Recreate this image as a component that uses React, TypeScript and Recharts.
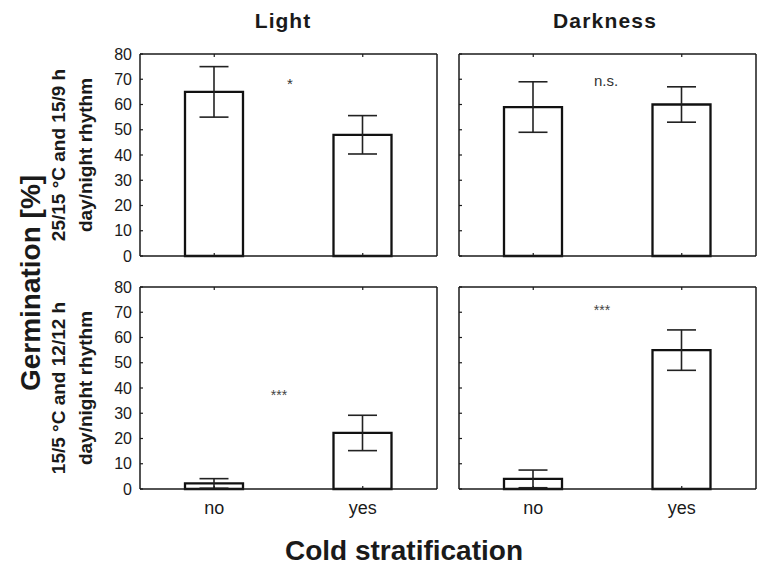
import React from 'react';
import { BarChart, Bar, XAxis, YAxis, ErrorBar } from 'recharts';

// ---- data ----
const categories = ['no', 'yes'];
const yTicks = [0, 10, 20, 30, 40, 50, 60, 70, 80];

const lightWarmValues = [65, 48];
const lightWarmErrors = [10, 7.6];
const darkWarmValues = [59, 60];
const darkWarmErrors = [10, 7];
const lightColdValues = [2.2, 22.2];
const lightColdErrors = [1.9, 7];
const darkColdValues = [4, 55];
const darkColdErrors = [3.5, 8];

const columnTitles = ['Light', 'Darkness'];
const rowLabelsWarm = ['25/15 °C and 15/9 h', 'day/night rhythm'];
const rowLabelsCold = ['15/5 °C and 12/12 h', 'day/night rhythm'];
const significanceLabels = ['*', 'n.s.', '***', '***'];
const yAxisTitle = 'Germination [%]';
const xAxisTitle = 'Cold stratification';

// ---- layout ----
const PLOT_W = 297;
const PLOT_H = 202;
const COL_LEFT = [140, 459];
const ROW_TOP = [54, 287];
const FONT = '"Liberation Sans", Arial, Helvetica, sans-serif';
const INK = '#1a1a1a';

type PanelProps = {
  values: number[];
  errors: number[];
  plotLeft: number;
  plotTop: number;
  showYLabels: boolean;
  showXLabels: boolean;
};

const blank = () => '';

function Panel({ values, errors, plotLeft, plotTop, showYLabels, showXLabels }: PanelProps) {
  const data = categories.map((c, i) => ({ cat: c, value: values[i], err: errors[i] }));
  const yAxisW = showYLabels ? 60 : 1;
  const marginLeft = showYLabels ? 0 : 5;
  const marginTop = 13;
  const marginBottom = showXLabels ? 3 : 12;
  const bottomH = showXLabels ? 40 : 1;
  const W = marginLeft + yAxisW + PLOT_W + 1 + 2;
  const H = marginTop + 1 + PLOT_H + bottomH + marginBottom;
  const axisLine = { stroke: INK, strokeWidth: 1.5 };
  const tickLine = { stroke: INK, strokeWidth: 1.2 };
  return (
    <div style={{ position: 'absolute', left: plotLeft - yAxisW - marginLeft, top: plotTop - 1 - marginTop }}>
      <BarChart
        width={W}
        height={H}
        data={data}
        margin={{ top: marginTop, right: 2, bottom: marginBottom, left: marginLeft }}
        barSize={58}
      >
        <XAxis
          xAxisId="b"
          dataKey="cat"
          orientation="bottom"
          height={bottomH}
          tickSize={-3}
          tickMargin={15}
          interval={0}
          tickFormatter={showXLabels ? undefined : blank}
          tick={{ fill: INK, fontSize: 18, fontFamily: FONT }}
          axisLine={axisLine}
          tickLine={tickLine}
        />
        <XAxis
          xAxisId="t"
          dataKey="cat"
          orientation="top"
          height={1}
          tickSize={-3}
          interval={0}
          tickFormatter={blank}
          axisLine={axisLine}
          tickLine={tickLine}
        />
        <YAxis
          yAxisId="l"
          orientation="left"
          width={yAxisW}
          domain={[0, 80]}
          ticks={yTicks}
          interval={0}
          tickSize={-3}
          tickMargin={11}
          tickFormatter={showYLabels ? undefined : blank}
          tick={{ fill: INK, fontSize: 16, fontFamily: FONT }}
          axisLine={axisLine}
          tickLine={tickLine}
        />
        <YAxis
          yAxisId="r"
          orientation="right"
          width={1}
          domain={[0, 80]}
          ticks={yTicks}
          interval={0}
          tickSize={-3}
          tickFormatter={blank}
          axisLine={axisLine}
          tickLine={tickLine}
        />
        <Bar
          xAxisId="b"
          yAxisId="l"
          dataKey="value"
          fill="#ffffff"
          stroke="#111"
          strokeWidth={2.3}
          isAnimationActive={false}
        >
          <ErrorBar dataKey="err" width={14.5} stroke="#222" strokeWidth={1.6} />
        </Bar>
      </BarChart>
    </div>
  );
}

export default function App() {
  return (
    <div
      style={{
        position: 'absolute',
        left: 0,
        top: 0,
        width: 759,
        height: 565,
        background: '#fff',
        overflow: 'hidden',
        fontFamily: FONT,
      }}
    >
      <Panel values={lightWarmValues} errors={lightWarmErrors} plotLeft={COL_LEFT[0]} plotTop={ROW_TOP[0]} showYLabels showXLabels={false} />
      <Panel values={darkWarmValues} errors={darkWarmErrors} plotLeft={COL_LEFT[1]} plotTop={ROW_TOP[0]} showYLabels={false} showXLabels={false} />
      <Panel values={lightColdValues} errors={lightColdErrors} plotLeft={COL_LEFT[0]} plotTop={ROW_TOP[1]} showYLabels showXLabels />
      <Panel values={darkColdValues} errors={darkColdErrors} plotLeft={COL_LEFT[1]} plotTop={ROW_TOP[1]} showYLabels={false} showXLabels />

      <svg
        width={759}
        height={565}
        style={{ position: 'absolute', left: 0, top: 0, pointerEvents: 'none' }}
      >
        {/* column titles */}
        <text x={283} y={28} textAnchor="middle" fontSize={21} fontWeight="bold" letterSpacing={1} fill={INK} fontFamily={FONT}>
          {columnTitles[0]}
        </text>
        <text x={605} y={28} textAnchor="middle" fontSize={21} fontWeight="bold" letterSpacing={1.2} fill={INK} fontFamily={FONT}>
          {columnTitles[1]}
        </text>

        {/* significance marks */}
        <text x={290} y={89} textAnchor="middle" fontSize={15} fill="#333" fontFamily={FONT}>{significanceLabels[0]}</text>
        <text x={606} y={86} textAnchor="middle" fontSize={15} fill="#333" fontFamily={FONT}>{significanceLabels[1]}</text>
        <text x={279} y={400} textAnchor="middle" fontSize={14} fill="#444" fontFamily={FONT}>{significanceLabels[2]}</text>
        <text x={602} y={315} textAnchor="middle" fontSize={14} fill="#444" fontFamily={FONT}>{significanceLabels[3]}</text>

        {/* row labels */}
        {[rowLabelsWarm, rowLabelsCold].map((lines, r) => {
          const cy = ROW_TOP[r] + PLOT_H / 2;
          return lines.map((t, i) => {
            const cx = i === 0 ? 58 : 85;
            return (
              <text
                key={`${r}-${i}`}
                x={cx}
                y={cy}
                transform={`rotate(-90 ${cx} ${cy})`}
                textAnchor="middle"
                dominantBaseline="central"
                fontSize={19}
                fontWeight="bold"
                fill={INK}
                fontFamily={FONT}
              >
                {t}
              </text>
            );
          });
        })}

        {/* overall axis titles */}
        <text
          x={30}
          y={283}
          transform="rotate(-90 30 283)"
          textAnchor="middle"
          dominantBaseline="central"
          fontSize={28}
          fontWeight="bold"
          fill={INK}
          fontFamily={FONT}
        >
          {yAxisTitle}
        </text>
        <text x={404} y={560} textAnchor="middle" fontSize={28} fontWeight="bold" fill={INK} fontFamily={FONT}>
          {xAxisTitle}
        </text>
      </svg>
    </div>
  );
}
